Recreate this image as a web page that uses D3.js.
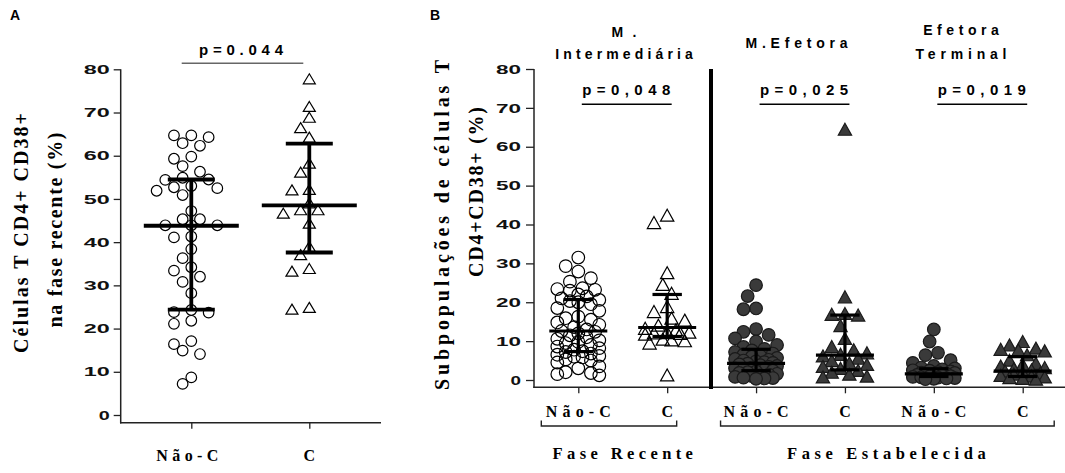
<!DOCTYPE html>
<html>
<head>
<meta charset="utf-8">
<script src="https://cdn.jsdelivr.net/npm/d3@7"></script>
<style>
  body { margin: 0; background: #fff; }
  svg { display: block; }
</style>
</head>
<body>
<script>
// ---- dados ----
var yTicks = [0, 10, 20, 30, 40, 50, 60, 70, 80];

// painel A
var catsA = ["Não-C", "C"];
var naoC_A = [64.7, 64.3, 64.7, 62.3, 62.9, 59.3, 59.8, 57.6, 56.3, 54.5, 54.9, 54.4, 53.0, 52.5, 52.7,
    51.9, 50.9, 47.2, 45.3, 45.3, 43.9, 43.9, 43.9, 41.1, 41.3, 38.4, 36.3, 34.2, 33.4, 32.0, 30.8,
    28.2, 24.3, 23.7, 23.8, 21.8, 21.1, 17.1, 16.4, 14.9, 14.1, 8.7, 7.2];
var c_A = [77.8, 71.4, 68.9, 66.5, 64.3, 58.3, 56.2, 52.2, 52.1, 49.1, 47.5, 47.5, 46.7, 44.4, 39.0,
    37.1, 33.9, 33.3, 24.9, 24.5];
var medA = [43.8, 48.5];
var q1A = [24.4, 37.6];
var q3A = [54.5, 62.8];
var pA = "p=0.044";

// painel B
var catsB = ["Não-C", "C", "Não-C", "C", "Não-C", "C"];
var subsB = [["M.", "Intermediária"], ["M.Efetora"], ["Efetora", "Terminal"]];
var pB = ["p=0,048", "p=0,025", "p=0,019"];
var fasesB = ["Fase Recente", "Fase Estabelecida"];
var interNC = [31.5, 29.3, 27.9, 26.2, 25.3, 23.6, 23.4, 23.2, 23.0, 22.0, 21.5, 21.0, 20.6, 20.3, 20.0,
    19.5, 18.5, 17.8, 16.3, 15.9, 15.5, 14.8, 14.2, 13.6, 13.0, 12.6, 12.4, 12.0, 11.5, 11.0, 10.6,
    10.2, 9.8, 9.5, 9.0, 8.6, 8.2, 7.8, 7.4, 7.2, 6.8, 6.5, 6.2, 6.0, 5.8, 5.3, 5.0, 4.5, 3.5, 3.0,
    2.0, 1.8, 1.5, 1.2];
var interC = [42.4, 40.5, 27.6, 24.6, 22.3, 18.9, 17.6, 15.9, 15.4, 14.1, 13.3, 12.9, 12.3, 12.2, 12.1,
    12.0, 11.8, 10.5, 10.3, 10.1, 9.5, 1.3];
var efetNC = [24.4, 21.6, 18.4, 18.2, 13.1, 12.4, 11.6, 10.7, 9.9, 9.0, 8.5, 8.0, 7.6, 7.2, 6.8, 6.5,
    6.2, 6.0, 5.7, 5.4, 5.2, 5.0, 4.8, 4.6, 4.4, 4.2, 4.0, 3.8, 3.6, 3.4, 3.2, 3.0, 2.8, 2.6, 2.4,
    2.2, 2.0, 1.8, 1.6, 1.4, 1.2, 1.0, 0.8, 0.6, 0.5, 0.4, 0.3];
var efetC = [64.5, 21.4, 17.1, 16.9, 16.7, 14.0, 10.7, 8.6, 7.8, 7.0, 6.6, 6.2, 5.6, 5.0, 4.4, 4.0,
    3.5, 3.0, 2.5, 2.0, 1.5, 1.0, 0.8];
var termNC = [13.0, 9.9, 7.0, 6.4, 5.1, 4.4, 3.6, 3.2, 3.0, 2.7, 2.5, 2.4, 2.2, 2.0, 1.9, 1.8, 1.6,
    1.5, 1.4, 1.3, 1.2, 1.0, 0.9, 0.8, 0.7, 0.6, 0.5, 0.4, 0.3, 0.2];
var termC = [9.9, 9.0, 8.2, 7.9, 7.7, 7.5, 6.5, 5.1, 4.3, 4.0, 3.6, 3.2, 2.9, 2.6, 2.3, 2.0, 1.8, 1.5,
    1.2, 1.0, 0.8, 0.6, 0.4, 0.2];
var medB = [12.6, 13.5, 4.3, 6.4, 1.6, 2.3];
var q1B = [7.3, 11.2, 2.4, 2.6, 0.9, 0.9];
var q3B = [20.7, 22.0, 7.9, 16.7, 2.9, 6.0];

var svg = d3.select("body").append("svg").attr("width", 1065).attr("height", 473);

var SANS = "'Liberation Sans', Arial, sans-serif";
var SERIF = "'Liberation Serif', 'Times New Roman', serif";

// texto esticado (como no GraphPad)
function txt(x, y, s, len, size, font, anchor) {
    var t = svg.append("text")
        .attr("x", x).attr("y", y)
        .attr("font-family", font).attr("font-weight", "bold")
        .attr("font-size", size)
        .attr("text-anchor", anchor || "middle")
        .text(s);
    if (len) t.attr("textLength", len).attr("lengthAdjust", "spacing");
    return t;
}
function vtxt(x, y, s, len, size) {
    return svg.append("text")
        .attr("transform", "translate(" + x + "," + y + ") rotate(-90)")
        .attr("font-family", SERIF).attr("font-weight", "bold")
        .attr("font-size", size).attr("text-anchor", "middle")
        .attr("textLength", len).attr("lengthAdjust", "spacing")
        .text(s);
}

// distribui os pontos lado a lado sem sobrepor (quando possivel)
function swarm(vals, y, cx, step, minD, maxOff) {
    var placed = [];
    var sorted = vals.slice().sort(function(a, b) { return b - a; });
    sorted.forEach(function(v) {
        var py = y(v);
        var cands = [0];
        for (var k = 1; k * step <= maxOff + 0.01; k++) { cands.push(-k * step); cands.push(k * step); }
        var best = cx, bestD = -1;
        for (var i = 0; i < cands.length; i++) {
            var px = cx + cands[i];
            var md = Infinity;
            placed.forEach(function(p) {
                var d = Math.hypot(p.x - px, p.y - py);
                if (d < md) md = d;
            });
            if (md >= minD) { best = px; break; }
            if (md > bestD) { bestD = md; best = px; }
        }
        placed.push({ v: v, x: best, y: py });
    });
    return placed;
}

function triPath(w, h) {
    return "M0," + (-h / 2) + "L" + (w / 2) + "," + (h / 2) + "L" + (-w / 2) + "," + (h / 2) + "Z";
}

function errBar(g, cx, y, med, q1, q3, halfMed, halfCap, sw) {
    g.append("line").attr("x1", cx).attr("x2", cx).attr("y1", y(q1)).attr("y2", y(q3))
        .attr("stroke", "#000").attr("stroke-width", sw);
    [q1, q3].forEach(function(q) {
        g.append("line").attr("x1", cx - halfCap).attr("x2", cx + halfCap).attr("y1", y(q)).attr("y2", y(q))
            .attr("stroke", "#000").attr("stroke-width", sw);
    });
    g.append("line").attr("x1", cx - halfMed).attr("x2", cx + halfMed).attr("y1", y(med)).attr("y2", y(med))
        .attr("stroke", "#000").attr("stroke-width", sw);
}

function styleYAxis(g, len2) {
    g.select(".domain").remove();
    g.selectAll(".tick line").attr("stroke", "#222").attr("stroke-width", 1.3);
    g.selectAll(".tick text")
        .attr("font-family", SANS).attr("font-weight", "bold").attr("font-size", 13)
        .attr("fill", "#111")
        .attr("textLength", function(d) { return d < 10 ? len2 / 2 - 2 : len2; })
        .attr("lengthAdjust", "spacingAndGlyphs");
}

// ================= painel A =================
var yA = d3.scaleLinear().domain([0, 80]).range([415, 69.3]);
var xA = d3.scalePoint().domain(catsA).range([191.3, 309.3]);

svg.append("line").attr("x1", 120.7).attr("x2", 120.7).attr("y1", 69.3).attr("y2", 423.4)
    .attr("stroke", "#222").attr("stroke-width", 1.5);
svg.append("line").attr("x1", 120).attr("x2", 381).attr("y1", 422.7).attr("y2", 422.7)
    .attr("stroke", "#222").attr("stroke-width", 1.5);

var gyA = svg.append("g").attr("transform", "translate(120.7,0)")
    .call(d3.axisLeft(yA).tickValues(yTicks).tickSize(7).tickPadding(4));
styleYAxis(gyA, 26);

var gxA = svg.append("g").attr("transform", "translate(0,422.7)")
    .call(d3.axisBottom(xA).tickSize(6).tickFormat(""));
gxA.select(".domain").remove();
gxA.selectAll(".tick line").attr("stroke", "#222").attr("stroke-width", 1.3);

catsA.forEach(function(c) {
    txt(xA(c) - (c === "C" ? 0 : 4), 460.7, c, c === "C" ? null : 62, 16, SERIF);
});

var ptsA_nc = swarm(naoC_A, yA, xA("Não-C"), 8.67, 10.6, 35);
svg.append("g").selectAll("circle").data(ptsA_nc).enter().append("circle")
    .attr("cx", function(d) { return d.x; }).attr("cy", function(d) { return d.y; })
    .attr("r", 5.3).attr("fill", "none").attr("stroke", "#000").attr("stroke-width", 1.2);

var ptsA_c = swarm(c_A, yA, xA("C"), 8.67, 10.6, 35);
svg.append("g").selectAll("path").data(ptsA_c).enter().append("path")
    .attr("transform", function(d) { return "translate(" + d.x + "," + d.y + ")"; })
    .attr("d", triPath(12, 10)).attr("fill", "none").attr("stroke", "#000").attr("stroke-width", 1.2);

var gEA = svg.append("g");
catsA.forEach(function(c, i) {
    errBar(gEA, xA(c), yA, medA[i], q1A[i], q3A[i], 47.5, 23.5, 3.8);
});

svg.append("line").attr("x1", 181.7).attr("x2", 303.3).attr("y1", 63.3).attr("y2", 63.3)
    .attr("stroke", "#666").attr("stroke-width", 1.6);
txt(241, 55, pA, 84, 15, SANS);

vtxt(28, 233, "Células T CD4+ CD38+", 240, 20);
vtxt(62, 230, "na fase recente (%)", 195, 20);
txt(10, 20, "A", null, 14, SANS, "start");

// ================= painel B =================
var yB = d3.scaleLinear().domain([0, 80]).range([380, 69]);
var xB = d3.scalePoint().domain(d3.range(catsB.length)).range([578.3, 1022.7]);

svg.append("line").attr("x1", 534).attr("x2", 534).attr("y1", 69).attr("y2", 388)
    .attr("stroke", "#222").attr("stroke-width", 1.5);
svg.append("line").attr("x1", 533.3).attr("x2", 1065).attr("y1", 387.3).attr("y2", 387.3)
    .attr("stroke", "#222").attr("stroke-width", 1.5);

var gyB = svg.append("g").attr("transform", "translate(534,0)")
    .call(d3.axisLeft(yB).tickValues(yTicks).tickSize(8).tickPadding(5));
styleYAxis(gyB, 25);

var gxB = svg.append("g").attr("transform", "translate(0,387.3)")
    .call(d3.axisBottom(xB).tickSize(6).tickFormat(""));
gxB.select(".domain").remove();
gxB.selectAll(".tick line").attr("stroke", "#222").attr("stroke-width", 1.3);

catsB.forEach(function(c, i) {
    txt(xB(i), 417.3, c, c === "C" ? null : 65, 16, SERIF);
});

// separador vertical
svg.append("line").attr("x1", 711).attr("x2", 711).attr("y1", 69).attr("y2", 389)
    .attr("stroke", "#000").attr("stroke-width", 4);

var groupsB = [interNC, interC, efetNC, efetC, termNC, termC];
var gPts = svg.append("g");
groupsB.forEach(function(vals, i) {
    var isTri = i % 2 === 1;
    var filled = i >= 2;
    var pts = swarm(vals, yB, xB(i), isTri ? 4.4 : 4.2, 12.2, 23);
    if (isTri) {
        gPts.append("g").selectAll("path").data(pts).enter().append("path")
            .attr("transform", function(d) { return "translate(" + d.x + "," + d.y + ")"; })
            .attr("d", triPath(13.3, 12))
            .attr("fill", filled ? "#3a3a3a" : "none")
            .attr("stroke", filled ? "#1a1a1a" : "#000").attr("stroke-width", 1.2);
    } else {
        gPts.append("g").selectAll("circle").data(pts).enter().append("circle")
            .attr("cx", function(d) { return d.x; }).attr("cy", function(d) { return d.y; })
            .attr("r", 6.3)
            .attr("fill", filled ? "#3a3a3a" : "none")
            .attr("stroke", filled ? "#1a1a1a" : "#000").attr("stroke-width", 1.2);
    }
});

var gEB = svg.append("g");
catsB.forEach(function(c, i) {
    errBar(gEB, xB(i), yB, medB[i], q1B[i], q3B[i], 29, 14.7, 3.2);
});

// titulos das subpopulacoes
var subX = [624, 796.5, 961];
txt(subX[0], 36.7, subsB[0][0], 25, 14, SANS);
txt(subX[0], 59.3, subsB[0][1], 137.7, 14, SANS);
txt(subX[1], 48.3, subsB[1][0], 102, 14, SANS);
txt(subX[2], 35, subsB[2][0], 75.6, 14, SANS);
txt(subX[2], 59.3, subsB[2][1], 91, 14, SANS);

// p-valores
pB.forEach(function(p, k) {
    var a = xB(k * 2), b = xB(k * 2 + 1);
    var mid = (a + b) / 2;
    svg.append("line").attr("x1", a + 3.5).attr("x2", b + 4.5).attr("y1", 104.3).attr("y2", 104.3)
        .attr("stroke", "#000").attr("stroke-width", 1.4);
    txt(mid + 3.5, 95, p, 88, 15, SANS);
});

// chaves das fases
function bracket(x1, x2, cx, label) {
    svg.append("path")
        .attr("d", "M" + x1 + ",420.5V426H" + x2 + "V420.5")
        .attr("fill", "none").attr("stroke", "#222").attr("stroke-width", 1.4);
    txt(cx, 459.3, label, label.length * 11.7, 16.5, SERIF);
}
bracket(xB(0) - 37, xB(1) + 9.5, (xB(0) + xB(1)) / 2, fasesB[0]);
bracket(xB(2) - 35.5, xB(5) + 31.5, (xB(2) + xB(5)) / 2 - 3, fasesB[1]);

vtxt(449, 225, "Subpopulações de células T", 330, 20);
vtxt(483, 192, "CD4+CD38+ (%)", 170, 20);
txt(430, 20, "B", null, 14, SANS, "start");
</script>
</body>
</html>
